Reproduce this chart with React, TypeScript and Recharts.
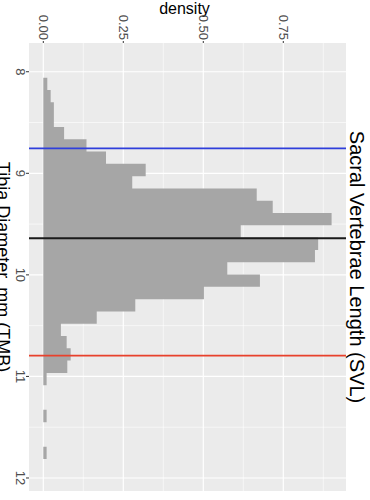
import { ComposedChart, Area, XAxis, YAxis, CartesianGrid, ReferenceLine } from "recharts"

// SVL histogram: lower edge of each bin (mm) and the density of that bin
const binStarts = [
  8.059, 8.18, 8.301, 8.422, 8.543, 8.665, 8.786, 8.907, 9.028, 9.149, 9.27,
  9.391, 9.512, 9.633, 9.754, 9.876, 9.997, 10.118, 10.239, 10.36, 10.481,
  10.602, 10.723, 10.844, 10.965, 11.087, 11.208, 11.329, 11.45, 11.571, 11.692,
]
const lastBinEnd = 11.813
const densities = [
  0.0125, 0.023, 0.033, 0.033, 0.065, 0.135, 0.196, 0.32, 0.278, 0.667, 0.717,
  0.901, 0.617, 0.859, 0.849, 0.575, 0.677, 0.502, 0.2875, 0.167, 0.055,
  0.073, 0.0855, 0.075, 0.0104, 0, 0, 0.0104, 0, 0, 0.0104,
]

// cut-off lines drawn across the histogram
const lowerCut = 8.754
const meanSvl = 9.64
const upperCut = 10.796

const svlTicks = [8, 9, 10, 11, 12]
const svlMinor = [8.5, 9.5, 10.5, 11.5]
const densityTicks = [0, 0.25, 0.5, 0.75]
const densityMinor = [0.125, 0.375, 0.625, 0.875]

const svlDomain = [7.717, 12.128]
const densityDomain = [-0.0447, 0.946]

const FONT = '"Liberation Sans", Arial, Helvetica, sans-serif'

// step area needs one extra point to close the last bin
const histData = binStarts.map((x, i) => ({ x, density: densities[i] }))
histData.push({ x: lastBinEnd, density: densities[densities.length - 1] })

const TitleLabel = (props: any) => {
  const { x, y, width, height } = props.viewBox
  return (
    <text x={x + width / 2} y={y + height - 4} textAnchor="middle" fontSize={20} fontFamily={FONT} fill="#000">
      Sacral Vertebrae Length (SVL)
    </text>
  )
}

const DensityLabel = (props: any) => {
  const { x, y, height } = props.viewBox
  const cx = x + 13.5
  const cy = y + height / 2 + 3
  return (
    <text x={cx} y={cy} transform={`rotate(-90 ${cx} ${cy})`} textAnchor="middle" fontSize={16} fontFamily={FONT} fill="#000">
      density
    </text>
  )
}

const SvlLabel = (props: any) => {
  const { x, y, width } = props.viewBox
  return (
    <text x={x + width / 2} y={y + 32} textAnchor="middle" fontSize={18} fontFamily={FONT} fill="#000">
      Tibia Diameter, mm (TMB)
    </text>
  )
}

const tickStyle = { fontSize: 13, fill: "#4D4D4D", fontFamily: FONT }

export default function App() {
  return (
    <div
      style={{
        position: "absolute",
        left: 0,
        top: 0,
        width: 500,
        height: 370,
        background: "#fff",
        transformOrigin: "0 0",
        transform: "translate(370px, 0) rotate(90deg)",
      }}
    >
      <style>{"body{margin:0;overflow:hidden}"}</style>
      <ComposedChart width={500} height={370} data={histData} margin={{ top: 0, right: 9, bottom: 0, left: 0 }}>
        <CartesianGrid
          fill="#EBEBEB"
          stroke="#FFFFFF"
          strokeWidth={0.6}
          horizontalValues={densityMinor}
          verticalValues={svlMinor}
        />
        <CartesianGrid
          stroke="#FFFFFF"
          strokeWidth={1.2}
          horizontalValues={densityTicks}
          verticalValues={svlTicks}
        />
        <XAxis
          xAxisId="title"
          orientation="top"
          type="number"
          dataKey="x"
          domain={svlDomain}
          allowDataOverflow
          height={24}
          tick={false}
          tickLine={false}
          axisLine={false}
          label={TitleLabel}
        />
        <XAxis
          type="number"
          dataKey="x"
          domain={svlDomain}
          allowDataOverflow
          ticks={svlTicks}
          height={29}
          tickSize={3}
          tickMargin={1}
          axisLine={false}
          tickLine={{ stroke: "#333333" }}
          tick={tickStyle}
          label={SvlLabel}
        />
        <YAxis
          type="number"
          domain={densityDomain}
          allowDataOverflow
          ticks={densityTicks}
          tickFormatter={(v: number) => v.toFixed(2)}
          width={43}
          tickSize={2}
          tickMargin={1}
          axisLine={false}
          tickLine={{ stroke: "#333333" }}
          tick={tickStyle}
          label={DensityLabel}
        />
        <Area
          type="stepAfter"
          dataKey="density"
          baseValue={0}
          fill="#A6A6A6"
          fillOpacity={1}
          stroke="none"
          dot={false}
          activeDot={false}
          isAnimationActive={false}
        />
        <ReferenceLine x={lowerCut} stroke="#2F3FDB" strokeWidth={1.8} />
        <ReferenceLine x={meanSvl} stroke="#1A1A1A" strokeWidth={2} />
        <ReferenceLine x={upperCut} stroke="#E8412C" strokeWidth={1.8} />
      </ComposedChart>
    </div>
  )
}
